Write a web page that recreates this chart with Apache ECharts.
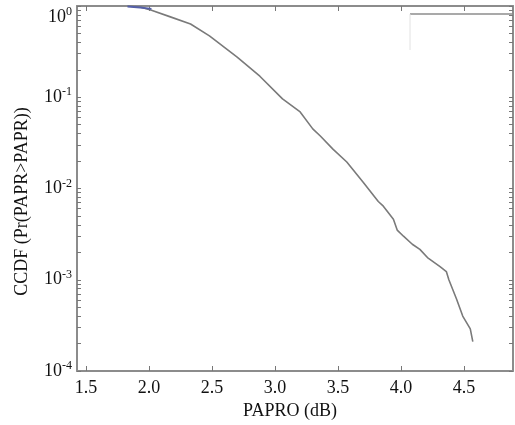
<!DOCTYPE html>
<html>
<head>
<meta charset="utf-8">
<script src="https://cdn.jsdelivr.net/npm/echarts@6/dist/echarts.min.js"></script>
<style>
  html, body { margin: 0; padding: 0; background: #fff; }
  #chart { width: 515px; height: 425px; }
</style>
</head>
<body>
<div id="chart"></div>
<script>
// PAPR threshold (dB) and CCDF
const papr = [1.83, 1.93, 2.02, 2.17, 2.33, 2.48, 2.70, 2.88, 3.06, 3.20, 3.30, 3.36, 3.46, 3.57, 3.70,
              3.82, 3.86, 3.94, 3.97, 4.02, 4.09, 4.15, 4.21, 4.31, 4.36, 4.38, 4.44, 4.49, 4.55, 4.57];
const ccdf = [1.0, 0.975, 0.90, 0.76, 0.635, 0.47, 0.276, 0.17, 0.096, 0.069, 0.045, 0.0376, 0.027, 0.0195, 0.0117,
              0.0072, 0.0064, 0.0046, 0.0035, 0.0030, 0.00245, 0.00215, 0.00175, 0.00139, 0.00123, 0.00100, 0.00062, 0.00040, 0.00029, 0.00021];
// short blue trace hidden under the top frame
const bluePapr = [1.83, 1.93, 2.02];
const blueCcdf = [0.985, 0.96, 0.93];

const xLabels = [1.5, 2.0, 2.5, 3.0, 3.5, 4.0, 4.5];
const yLabels = [1e-4, 1e-3, 1e-2, 1e-1, 1];
const yTicks = [];
yLabels.forEach((d, i) => {
  if (i < yLabels.length - 1) {
    for (let m = 1; m < 10; m++) yTicks.push(d * m);
  } else {
    yTicks.push(d);
  }
});

const font = 'Liberation Serif';
const axisColor = '#8c8c8c';

let myChart = echarts.init(document.getElementById('chart'));

myChart.setOption({
  animation: false,
  grid: { left: 77, right: 2, top: 6, bottom: 54, outerBoundsMode: 'none' },
  xAxis: [
    {
      type: 'value',
      min: 1.429,
      max: 4.889,
      name: 'PAPRO (dB)',
      nameLocation: 'middle',
      nameGap: 30,
      nameTextStyle: { fontFamily: font, fontSize: 18, color: '#111', padding: [0, 10, 0, 0] },
      axisLine: { lineStyle: { color: axisColor, width: 2 } },
      axisTick: { inside: true, length: 5, customValues: xLabels, lineStyle: { color: '#777' } },
      axisLabel: {
        customValues: xLabels,
        margin: 8,
        fontFamily: font,
        fontSize: 18,
        color: '#111',
        formatter: v => v.toFixed(1)
      },
      splitLine: { show: false }
    },
    {
      type: 'value',
      position: 'top',
      min: 1.429,
      max: 4.889,
      axisLine: { lineStyle: { color: axisColor, width: 2 } },
      axisTick: { inside: true, length: 5, customValues: xLabels, lineStyle: { color: '#777' } },
      axisLabel: { show: false },
      splitLine: { show: false }
    }
  ],
  yAxis: [
    {
      type: 'log',
      logBase: 10,
      min: 1e-4,
      max: 1,
      name: 'CCDF (Pr(PAPR>PAPR))',
      nameLocation: 'middle',
      nameGap: 46,
      nameTextStyle: { fontFamily: font, fontSize: 18, color: '#111', padding: [0, 26, 0, 0] },
      axisLine: { lineStyle: { color: axisColor, width: 2 } },
      axisTick: { inside: true, length: 4, customValues: yTicks, lineStyle: { color: '#777' } },
      axisLabel: {
        customValues: yLabels,
        margin: 5,
        color: '#111',
        formatter: v => {
          const e = Math.round(Math.log10(v));
          // the top label sits a little lower so it stays inside the page
          return e === 0 ? '{bt|10}{st|0}' : '{b|10}{s|' + e + '}';
        },
        rich: {
          b: { fontFamily: font, fontSize: 18, color: '#111' },
          s: { fontFamily: font, fontSize: 12, color: '#111', padding: [0, 0, 10, 0] },
          bt: { fontFamily: font, fontSize: 18, color: '#111', padding: [22, 0, 0, 0] },
          st: { fontFamily: font, fontSize: 12, color: '#111', padding: [22, 0, 10, 0] }
        }
      },
      splitLine: { show: false }
    },
    {
      type: 'log',
      logBase: 10,
      min: 1e-4,
      max: 1,
      position: 'right',
      axisLine: { lineStyle: { color: axisColor, width: 2 } },
      axisTick: { inside: true, length: 4, customValues: yTicks, lineStyle: { color: '#777' } },
      axisLabel: { show: false },
      splitLine: { show: false }
    }
  ],
  graphic: [
    {
      type: 'line',
      shape: { x1: 410, y1: 14, x2: 513, y2: 14 },
      style: { stroke: '#8c8c8c', lineWidth: 1.5 }
    },
    {
      type: 'line',
      shape: { x1: 410, y1: 14, x2: 410, y2: 50 },
      style: { stroke: '#e2e2e2', lineWidth: 1 }
    }
  ],
  series: [
    {
      type: 'line',
      data: papr.map((x, i) => [x, ccdf[i]]),
      showSymbol: false,
      lineStyle: { color: '#7a7a7a', width: 1.6 }
    },
    {
      type: 'line',
      data: bluePapr.map((x, i) => [x, blueCcdf[i]]),
      showSymbol: false,
      lineStyle: { color: '#5560a8', width: 2 }
    }
  ]
});
</script>
</body>
</html>
